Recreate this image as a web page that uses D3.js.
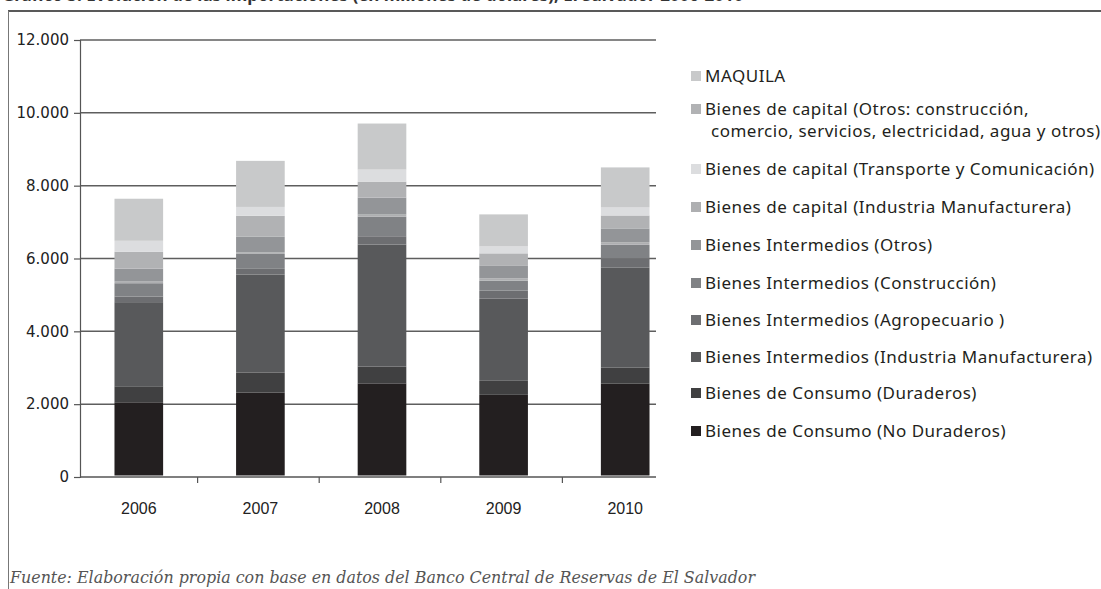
<!DOCTYPE html>
<html>
<head>
<meta charset="utf-8">
<script src="https://cdn.jsdelivr.net/npm/d3@7"></script>
<style>
  body { margin: 0; background: #fff; }
  svg { display: block; }
</style>
</head>
<body>
<svg id="chart" width="1101" height="589"></svg>
<script>
// years on the x axis
var years = ['2006', '2007', '2008', '2009', '2010'];

// one array per series, millions of dollars
var consumoNoDuraderos   = [2010, 2280, 2530, 2215, 2520];
var consumoDuraderos     = [440, 550, 460, 385, 440];
var intermIndustria      = [2310, 2690, 3350, 2255, 2745];
var intermAgropecuario   = [155, 155, 230, 220, 255];
var intermConstruccion   = [365, 410, 540, 275, 375];
var capitalIndustria     = [45, 40, 55, 65, 65];
var intermOtros          = [355, 430, 465, 355, 385];
var capitalOtros         = [465, 575, 440, 330, 355];
var capitalTransporte    = [300, 245, 330, 190, 220];
var maquila              = [1155, 1265, 1265, 880, 1100];

var yTicks = [0, 2000, 4000, 6000, 8000, 10000, 12000];

// stacking order, bottom first
var series = [
  { key: 'bcnd', name: 'Bienes de Consumo (No Duraderos)', values: consumoNoDuraderos, color: '#231f20' },
  { key: 'bcd',  name: 'Bienes de Consumo (Duraderos)', values: consumoDuraderos, color: '#404041' },
  { key: 'biim', name: 'Bienes Intermedios (Industria Manufacturera)', values: intermIndustria, color: '#58595b' },
  { key: 'bia',  name: 'Bienes Intermedios (Agropecuario )', values: intermAgropecuario, color: '#6d6e71' },
  { key: 'bic',  name: 'Bienes Intermedios (Construcción)', values: intermConstruccion, color: '#808285' },
  { key: 'bkim', name: 'Bienes de capital (Industria Manufacturera)', values: capitalIndustria, color: '#aeafb1' },
  { key: 'bio',  name: 'Bienes Intermedios (Otros)', values: intermOtros, color: '#939598' },
  { key: 'bko',  name: 'Bienes de capital (Otros: construcción,|comercio, servicios, electricidad, agua y otros)', values: capitalOtros, color: '#b1b2b4' },
  { key: 'bkt',  name: 'Bienes de capital (Transporte y Comunicación)', values: capitalTransporte, color: '#dcdddf' },
  { key: 'maq',  name: 'MAQUILA', values: maquila, color: '#c8c9ca' }
];

// legend order as printed, top to bottom
var legendOrder = ['maq', 'bko', 'bkt', 'bkim', 'bio', 'bic', 'bia', 'biim', 'bcd', 'bcnd'];
var legendY = [76, 109, 169, 207, 245, 283, 320, 357, 393, 431];

var svg = d3.select('#chart');

// title, mostly cut off at the top edge like the source
svg.append('text')
  .attr('x', 2)
  .attr('y', 1)
  .style('font-family', '"Noto Sans", sans-serif')
  .style('font-weight', 'bold')
  .style('font-size', '17px')
  .attr('fill', '#333')
  .text('Gráfico 3: Evolución de las importaciones (en millones de dólares), El Salvador 2006-2010');

// frame
svg.append('line')
  .attr('x1', 8).attr('x2', 1101).attr('y1', 11).attr('y2', 11)
  .attr('stroke', '#222').attr('stroke-width', 1.5);
svg.append('line')
  .attr('x1', 8.5).attr('x2', 8.5).attr('y1', 11).attr('y2', 589)
  .attr('stroke', '#777').attr('stroke-width', 1);

var x = d3.scaleBand()
  .domain(years)
  .range([78, 686])
  .paddingInner(0.6)
  .paddingOuter(0.3);

var y = d3.scaleLinear()
  .domain([0, 12000])
  .range([477, 40]);

var plotLeft = 80, plotRight = 656;

// gridlines
svg.append('g')
  .selectAll('line')
  .data(yTicks.filter(function(d) { return d > 0; }))
  .join('line')
  .attr('x1', plotLeft).attr('x2', plotRight)
  .attr('y1', function(d) { return y(d); })
  .attr('y2', function(d) { return y(d); })
  .attr('stroke', '#5e5e5e')
  .attr('stroke-width', 1.5);

// stacked bars
var table = years.map(function(yr, i) {
  var row = { year: yr };
  series.forEach(function(s) { row[s.key] = s.values[i]; });
  return row;
});

var stack = d3.stack().keys(series.map(function(s) { return s.key; }));
var stacked = stack(table);

svg.append('g')
  .selectAll('g')
  .data(stacked)
  .join('g')
  .attr('fill', function(d, i) { return series[i].color; })
  .selectAll('rect')
  .data(function(d) { return d; })
  .join('rect')
  .attr('x', function(d) { return x(d.data.year); })
  .attr('width', x.bandwidth())
  .attr('y', function(d) { return y(d[1]) - 1.5; })
  .attr('height', function(d) { return y(d[0]) - y(d[1]); });

// y axis
var yAxis = d3.axisLeft(y)
  .tickValues(yTicks)
  .tickSize(6)
  .tickPadding(5)
  .tickFormat(function(d) { return d3.format(',')(d).replace(/,/g, '.'); });

var gy = svg.append('g')
  .attr('transform', 'translate(' + plotLeft + ',0)')
  .call(yAxis);
gy.select('.domain').attr('stroke', '#555').attr('stroke-width', 1.2);
gy.selectAll('.tick line').attr('stroke', '#555').attr('stroke-width', 1.2);
gy.selectAll('.tick text')
  .style('font-family', '"DejaVu Sans", sans-serif')
  .style('font-size', '15px')
  .attr('fill', '#222');

// x axis baseline with ticks between categories
svg.append('line')
  .attr('x1', plotLeft).attr('x2', plotRight)
  .attr('y1', y(0)).attr('y2', y(0))
  .attr('stroke', '#555').attr('stroke-width', 1.5);

var step = x.step();
svg.append('g')
  .selectAll('line')
  .data(years.slice(0, -1))
  .join('line')
  .attr('x1', function(d) { return x(d) + x.bandwidth() + (step - x.bandwidth()) / 2 - 2; })
  .attr('x2', function(d) { return x(d) + x.bandwidth() + (step - x.bandwidth()) / 2 - 2; })
  .attr('y1', y(0)).attr('y2', y(0) + 6)
  .attr('stroke', '#555').attr('stroke-width', 1.2);

svg.append('g')
  .selectAll('text')
  .data(years)
  .join('text')
  .attr('x', function(d) { return x(d) + x.bandwidth() / 2; })
  .attr('y', 514)
  .attr('text-anchor', 'middle')
  .style('font-family', '"Liberation Sans", sans-serif')
  .style('font-size', '16px')
  .attr('fill', '#222')
  .text(function(d) { return d; });

// legend
var byKey = {};
series.forEach(function(s) { byKey[s.key] = s; });

var legend = svg.append('g');
legendOrder.forEach(function(k, i) {
  var s = byKey[k];
  var cy = legendY[i];
  legend.append('rect')
    .attr('x', 691).attr('y', cy - 5)
    .attr('width', 10).attr('height', 10)
    .attr('fill', s.color);
  s.name.split('|').forEach(function(line, j) {
    legend.append('text')
      .attr('x', j === 0 ? 705 : 711)
      .attr('y', cy + 6 + j * 22)
      .style('font-family', '"Noto Sans", sans-serif')
      .style('font-size', '17px')
      .style('letter-spacing', '0.5px')
      .attr('fill', '#231f20')
      .text(line);
  });
});

// source note
svg.append('text')
  .attr('x', 10)
  .attr('y', 583)
  .attr('textLength', 745)
  .attr('lengthAdjust', 'spacingAndGlyphs')
  .style('font-family', '"DejaVu Serif", serif')
  .style('font-style', 'italic')
  .style('font-size', '17px')
  .attr('fill', '#555')
  .text('Fuente: Elaboración propia con base en datos del Banco Central de Reservas de El Salvador');
</script>
</body>
</html>
